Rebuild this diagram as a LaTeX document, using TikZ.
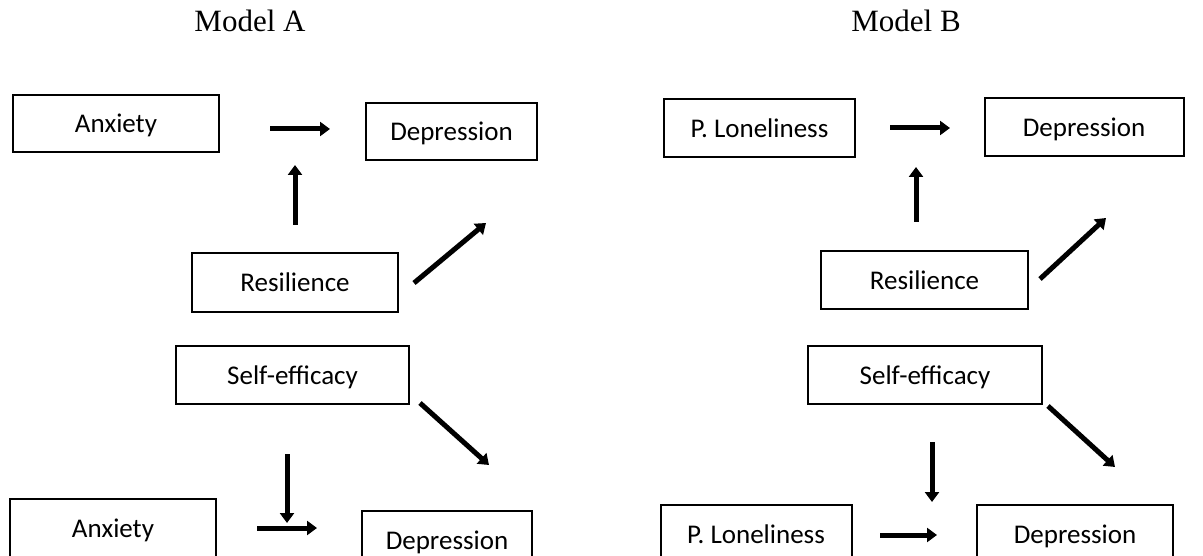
\documentclass[tikz,border=0pt]{standalone}
\usepackage{fontspec}
\setmainfont{Liberation Serif}
\newfontfamily\boxfont{Carlito}
\usetikzlibrary{arrows.meta,positioning}
\tikzset{
x=1pt, y=-1pt,
box/.style={draw, line width=2pt, inner sep=0pt, minimum height=58pt,
  text height=19pt, text depth=0pt, font=\boxfont\fontsize{27}{31}\selectfont},
link/.style={line width=5pt, -{Triangle[width=14pt,length=10pt]}},
title/.style={font=\fontsize{31}{36}\selectfont, inner sep=0pt, anchor=base},
}

\begin{document}
\begin{tikzpicture}
    \useasboundingbox (0,0) rectangle (1203,556);
    % model A
    \node[title] (titleA) at (250,32) {Model A};
    \node[box, minimum width=206pt, minimum height=57pt] (anxA) at (116,123.5) {Anxiety};
    \node[box, minimum width=171pt, minimum height=57pt] (depA) at (451.5,131.5) {Depression};
    \node[box, minimum width=206pt, minimum height=59pt] (resA) at (295,282.5) {Resilience};
    \node[box, minimum width=233pt] (selfA) at (292.5,375) {Self-efficacy};
    \node[box, minimum width=206pt] (anxA2) at (113,528) {Anxiety};
    \node[box, minimum width=170pt] (depA2) at (447,540) {Depression};
    % model B
    \node[title] (titleB) at (906,32) {Model B};
    \node[box, minimum width=191pt] (lonB) at (759.5,128) {P. Loneliness};
    \node[box, minimum width=199pt] (depB) at (1084,127) {Depression};
    \node[box, minimum width=207pt] (resB) at (924.5,280) {Resilience};
    \node[box, minimum width=234pt] (selfB) at (925,375) {Self-efficacy};
    \node[box, minimum width=191pt] (lonB2) at (756,534) {P. Loneliness};
    \node[box, minimum width=196pt] (depB2) at (1075,534) {Depression};
    % free arrow ends, model A
    \coordinate (a1s) at (270,129);  \coordinate (a1e) at (330,129);
    \coordinate (a2s) at (295,225);  \coordinate (a2e) at (295,165);
    \coordinate (a3s) at (414,283);  \coordinate (a3e) at (486,223);
    \coordinate (a4s) at (420,403);  \coordinate (a4e) at (489,465);
    \coordinate (a5s) at (287,454);  \coordinate (a5e) at (287,523);
    \coordinate (a6s) at (257,528);  \coordinate (a6e) at (317,528);
    % free arrow ends, model B
    \coordinate (b1s) at (890,128);  \coordinate (b1e) at (950,128);
    \coordinate (b2s) at (916,222);  \coordinate (b2e) at (916,167);
    \coordinate (b3s) at (1040,279); \coordinate (b3e) at (1106,218);
    \coordinate (b4s) at (1048,406); \coordinate (b4e) at (1115,467);
    \coordinate (b5s) at (932,442);  \coordinate (b5e) at (932,502);
    \coordinate (b6s) at (880,535);  \coordinate (b6e) at (937,535);
    \draw[link] (a1s) -- (a1e);
    \draw[link] (a2s) -- (a2e);
    \draw[link] (a3s) -- (a3e);
    \draw[link] (a4s) -- (a4e);
    \draw[link] (a5s) -- (a5e);
    \draw[link] (a6s) -- (a6e);
    \draw[link] (b1s) -- (b1e);
    \draw[link] (b2s) -- (b2e);
    \draw[link] (b3s) -- (b3e);
    \draw[link] (b4s) -- (b4e);
    \draw[link] (b5s) -- (b5e);
    \draw[link] (b6s) -- (b6e);
\end{tikzpicture}
\end{document}
